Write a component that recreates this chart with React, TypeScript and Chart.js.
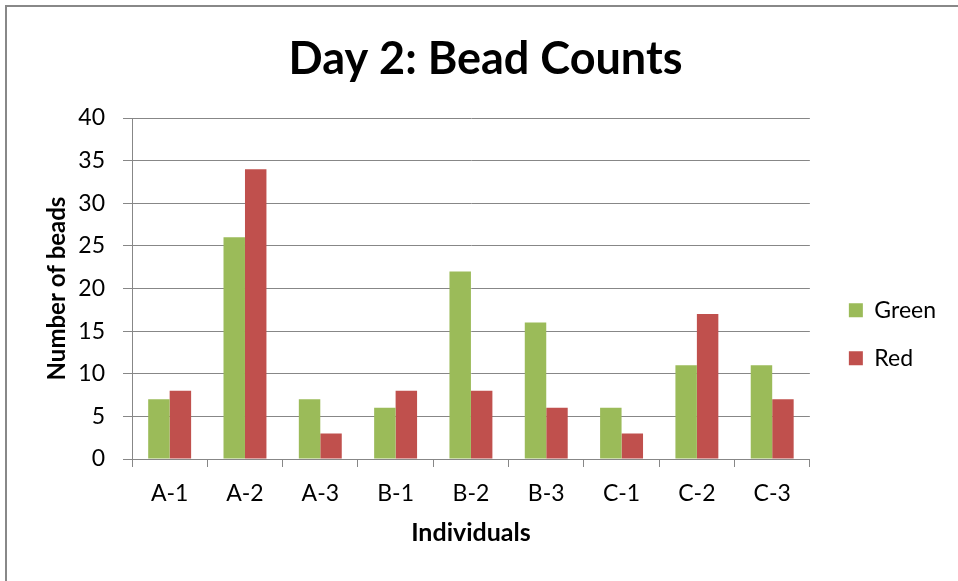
import React, { useEffect, useRef } from "react";
import { Chart, registerables } from "chart.js";

Chart.register(...registerables);

const categories = ["A-1", "A-2", "A-3", "B-1", "B-2", "B-3", "C-1", "C-2", "C-3"];
const greenValues = [7, 26, 7, 6, 22, 16, 6, 11, 11];
const redValues = [8, 34, 3, 8, 8, 6, 3, 17, 7];
const seriesNames = ["Green", "Red"];
const yMin = 0;
const yMax = 40;
const yStep = 5;

const FONT = "Lato, 'Open Sans', sans-serif";
const GRID = "#878787";

export default function App() {
  const ref = useRef<HTMLCanvasElement | null>(null);

  useEffect(() => {
    if (!ref.current) return;
    const chart = new Chart(ref.current, {
      type: "bar",
      data: {
        labels: categories,
        datasets: [
          {
            label: seriesNames[0],
            data: greenValues,
            backgroundColor: "#9BBB59",
            categoryPercentage: 0.57,
            barPercentage: 1,
          },
          {
            label: seriesNames[1],
            data: redValues,
            backgroundColor: "#C0504D",
            categoryPercentage: 0.57,
            barPercentage: 1,
          },
        ],
      },
      options: {
        responsive: false,
        animation: false,
        layout: { padding: { top: 0, left: 25, right: 12, bottom: 0 } },
        plugins: {
          title: {
            display: true,
            text: "Day 2: Bead Counts",
            color: "#000",
            font: { family: FONT, size: 45, weight: "bold" },
            padding: { top: 32, bottom: 32 },
          },
          legend: {
            position: "right",
            align: "center",
            title: { display: true, text: "", padding: { top: 73, bottom: 0 } },
            labels: {
              color: "#000",
              font: { family: FONT, size: 23 },
              boxWidth: 14,
              boxHeight: 14,
              padding: 25,
            },
          },
          tooltip: { enabled: false },
        },
        scales: {
          x: {
            afterFit: (s: any) => {
              s.height = 122;
            },
            grid: {
              display: true,
              drawOnChartArea: false,
              drawTicks: true,
              tickLength: 8,
              color: GRID,
              offset: true,
            },
            border: { display: true, color: GRID },
            ticks: { color: "#000", font: { family: FONT, size: 23 }, padding: 13 },
            title: {
              display: true,
              text: "Individuals",
              color: "#000",
              font: { family: FONT, size: 25, weight: "bold" },
              padding: { top: 10, bottom: 33 },
            },
          },
          y: {
            min: yMin,
            max: yMax,
            afterFit: (s: any) => {
              s.width = 107;
            },
            grid: { color: GRID, tickLength: 9, drawTicks: true },
            border: { display: true, color: GRID },
            ticks: {
              stepSize: yStep,
              color: "#000",
              font: { family: FONT, size: 23 },
              padding: 18,
            },
            title: {
              display: true,
              text: "Number of beads",
              color: "#000",
              font: { family: FONT, size: 24, weight: "bold" },
              padding: { top: 17.6, bottom: 8 },
            },
          },
          spacer: {
            type: "linear",
            position: "right",
            display: true,
            grid: {
              display: true,
              drawOnChartArea: false,
              drawTicks: true,
              tickLength: 14,
              color: "rgba(0,0,0,0)",
            },
            border: { display: false },
            ticks: { display: false },
          },
        },
      },
    });
    return () => chart.destroy();
  }, []);

  return (
    <div
      style={{
        position: "fixed",
        left: 0,
        top: 0,
        width: 958,
        height: 581,
        background: "#fff",
        overflow: "hidden",
      }}
    >
      <div
        style={{
          position: "absolute",
          left: 5,
          top: 5,
          width: 1100,
          height: 700,
          border: "2px solid #888",
          boxSizing: "border-box",
        }}
      />
      <canvas
        ref={ref}
        width={958}
        height={581}
        style={{ position: "absolute", left: 0, top: 0, width: 958, height: 581 }}
      />
    </div>
  );
}
